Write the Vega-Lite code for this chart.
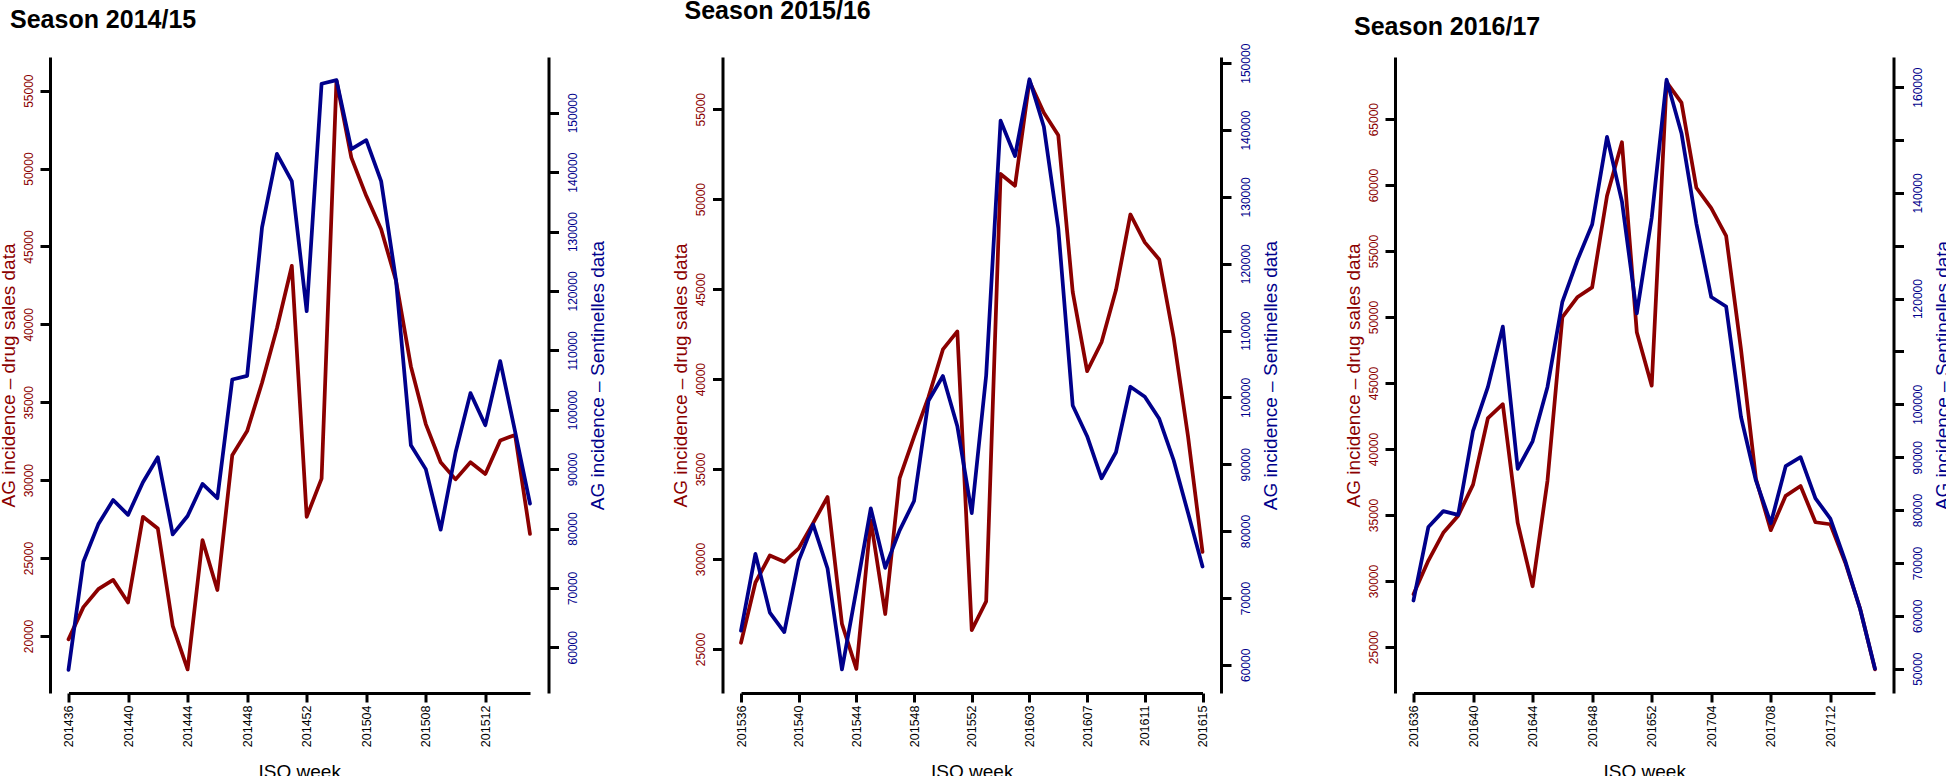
{
  "$schema": "https://vega.github.io/schema/vega-lite/v6.json",
  "background": "white",
  "padding": {"left": -1.5, "top": -2, "right": -6, "bottom": -6},
  "autosize": {"type": "pad"},
  "bounds": "flush",
  "spacing": 210.5,
  "config": {
    "view": {"stroke": null},
    "font": "Liberation Sans",
    "axis": {"grid": false, "labelFont": "Liberation Sans", "titleFont": "Liberation Sans", "domainColor": "black", "tickColor": "black", "domainWidth": 3, "tickWidth": 3, "labelFlush": false, "labelOverlap": false, "titleFontWeight": "normal"}
  },
  "datasets": {
    "s1": [
      {"week": "201436", "drug": 19780, "sentinelles": 56200},
      {"week": "201437", "drug": 21850, "sentinelles": 74400},
      {"week": "201438", "drug": 23000, "sentinelles": 80700},
      {"week": "201439", "drug": 23600, "sentinelles": 84800},
      {"week": "201440", "drug": 22150, "sentinelles": 82300},
      {"week": "201441", "drug": 27650, "sentinelles": 87800},
      {"week": "201442", "drug": 26900, "sentinelles": 92000},
      {"week": "201443", "drug": 20650, "sentinelles": 79000},
      {"week": "201444", "drug": 17850, "sentinelles": 82100},
      {"week": "201445", "drug": 26150, "sentinelles": 87500},
      {"week": "201446", "drug": 22950, "sentinelles": 85100},
      {"week": "201447", "drug": 31600, "sentinelles": 105100},
      {"week": "201448", "drug": 33150, "sentinelles": 105700},
      {"week": "201449", "drug": 36250, "sentinelles": 130700},
      {"week": "201450", "drug": 39750, "sentinelles": 143100},
      {"week": "201451", "drug": 43750, "sentinelles": 138500},
      {"week": "201452", "drug": 27650, "sentinelles": 116600},
      {"week": "201501", "drug": 30100, "sentinelles": 154900},
      {"week": "201502", "drug": 55650, "sentinelles": 155500},
      {"week": "201503", "drug": 50700, "sentinelles": 143900},
      {"week": "201504", "drug": 48250, "sentinelles": 145400},
      {"week": "201505", "drug": 46100, "sentinelles": 138500},
      {"week": "201506", "drug": 42800, "sentinelles": 121800},
      {"week": "201507", "drug": 37300, "sentinelles": 94000},
      {"week": "201508", "drug": 33600, "sentinelles": 90000},
      {"week": "201509", "drug": 31150, "sentinelles": 79800},
      {"week": "201510", "drug": 30050, "sentinelles": 92800},
      {"week": "201511", "drug": 31150, "sentinelles": 102800},
      {"week": "201512", "drug": 30400, "sentinelles": 97400},
      {"week": "201513", "drug": 32550, "sentinelles": 108200},
      {"week": "201514", "drug": 32900, "sentinelles": 96300},
      {"week": "201515", "drug": 26550, "sentinelles": 84200}
    ],
    "s2": [
      {"week": "201536", "drug": 25350, "sentinelles": 65100},
      {"week": "201537", "drug": 28700, "sentinelles": 76600},
      {"week": "201538", "drug": 30200, "sentinelles": 67800},
      {"week": "201539", "drug": 29850, "sentinelles": 64900},
      {"week": "201540", "drug": 30600, "sentinelles": 75600},
      {"week": "201541", "drug": 32000, "sentinelles": 81000},
      {"week": "201542", "drug": 33450, "sentinelles": 74400},
      {"week": "201543", "drug": 26400, "sentinelles": 59300},
      {"week": "201544", "drug": 23900, "sentinelles": 71200},
      {"week": "201545", "drug": 32150, "sentinelles": 83400},
      {"week": "201546", "drug": 26950, "sentinelles": 74500},
      {"week": "201547", "drug": 34500, "sentinelles": 80100},
      {"week": "201548", "drug": 36800, "sentinelles": 84500},
      {"week": "201549", "drug": 39000, "sentinelles": 99500},
      {"week": "201550", "drug": 41650, "sentinelles": 103200},
      {"week": "201551", "drug": 42650, "sentinelles": 95700},
      {"week": "201552", "drug": 26050, "sentinelles": 82700},
      {"week": "201553", "drug": 27650, "sentinelles": 103300},
      {"week": "201601", "drug": 51400, "sentinelles": 141400},
      {"week": "201602", "drug": 50750, "sentinelles": 136100},
      {"week": "201603", "drug": 56550, "sentinelles": 147600},
      {"week": "201604", "drug": 54800, "sentinelles": 140500},
      {"week": "201605", "drug": 53550, "sentinelles": 125300},
      {"week": "201606", "drug": 44850, "sentinelles": 98800},
      {"week": "201607", "drug": 40450, "sentinelles": 94200},
      {"week": "201608", "drug": 42050, "sentinelles": 87900},
      {"week": "201609", "drug": 44950, "sentinelles": 91800},
      {"week": "201610", "drug": 49150, "sentinelles": 101600},
      {"week": "201611", "drug": 47600, "sentinelles": 100100},
      {"week": "201612", "drug": 46650, "sentinelles": 96800},
      {"week": "201613", "drug": 42300, "sentinelles": 90600},
      {"week": "201614", "drug": 36800, "sentinelles": 82700},
      {"week": "201615", "drug": 30400, "sentinelles": 74700}
    ],
    "s3": [
      {"week": "201636", "drug": 29000, "sentinelles": 62900},
      {"week": "201637", "drug": 31550, "sentinelles": 76800},
      {"week": "201638", "drug": 33650, "sentinelles": 79800},
      {"week": "201639", "drug": 34950, "sentinelles": 79100},
      {"week": "201640", "drug": 37300, "sentinelles": 95000},
      {"week": "201641", "drug": 42350, "sentinelles": 103300},
      {"week": "201642", "drug": 43400, "sentinelles": 114700},
      {"week": "201643", "drug": 34400, "sentinelles": 87800},
      {"week": "201644", "drug": 29600, "sentinelles": 93000},
      {"week": "201645", "drug": 37600, "sentinelles": 103300},
      {"week": "201646", "drug": 50000, "sentinelles": 119400},
      {"week": "201647", "drug": 51500, "sentinelles": 127200},
      {"week": "201648", "drug": 52250, "sentinelles": 134000},
      {"week": "201649", "drug": 59200, "sentinelles": 150600},
      {"week": "201650", "drug": 63250, "sentinelles": 138400},
      {"week": "201651", "drug": 48850, "sentinelles": 117200},
      {"week": "201652", "drug": 44800, "sentinelles": 135300},
      {"week": "201701", "drug": 67800, "sentinelles": 161400},
      {"week": "201702", "drug": 66250, "sentinelles": 151300},
      {"week": "201703", "drug": 59800, "sentinelles": 134200},
      {"week": "201704", "drug": 58250, "sentinelles": 120300},
      {"week": "201705", "drug": 56150, "sentinelles": 118500},
      {"week": "201706", "drug": 47550, "sentinelles": 97600},
      {"week": "201707", "drug": 37750, "sentinelles": 85600},
      {"week": "201708", "drug": 33850, "sentinelles": 77500},
      {"week": "201709", "drug": 36450, "sentinelles": 88300},
      {"week": "201710", "drug": 37200, "sentinelles": 90000},
      {"week": "201711", "drug": 34450, "sentinelles": 82200},
      {"week": "201712", "drug": 34300, "sentinelles": 78400},
      {"week": "201713", "drug": 31400, "sentinelles": 70400},
      {"week": "201714", "drug": 27900, "sentinelles": 61300},
      {"week": "201715", "drug": 23300, "sentinelles": 50000}
    ]
  },
  "hconcat": [
    {
      "width": 461.5,
      "height": 636,
      "data": {"name": "s1"},
      "title": {"text": "Season 2014/15", "anchor": "start", "frame": "group", "orient": "top", "offset": 24.5, "dx": -58.5, "font": "Liberation Sans", "fontSize": 25, "fontWeight": "bold", "color": "black", "baseline": "top"},
      "layer": [
        {
          "mark": {"type": "line", "color": "#8B0000", "strokeWidth": 3.75, "strokeJoin": "round", "strokeCap": "round"},
          "encoding": {
            "x": {"field": "week", "type": "ordinal", "scale": {"type": "point", "padding": 0},
              "axis": {"values": ["201436", "201440", "201444", "201448", "201452", "201504", "201508", "201512"], "labelAngle": -90, "labelAlign": "right", "labelBaseline": "middle", "labelPadding": 3, "labelFontSize": 12.5, "labelColor": "black", "tickSize": 9, "title": "ISO week", "titleFontSize": 19, "titleColor": "black", "titleAngle": 0, "titleAlign": "center", "titleBaseline": "alphabetic", "titleX": 230.75, "titleY": 84.6}},
            "y": {"field": "drug", "type": "quantitative", "scale": {"domain": [16338, 57162], "nice": false, "zero": false},
              "axis": {"orient": "left", "offset": 18.5, "values": [20000, 25000, 30000, 35000, 40000, 45000, 50000, 55000], "format": "d", "labelAngle": -90, "labelAlign": "center", "labelBaseline": "alphabetic", "labelPadding": 8, "labelColor": "#8B0000", "labelFontSize": 12, "tickSize": 10, "title": "AG incidence – drug sales data", "titleColor": "#8B0000", "titleFontSize": 19, "titleAngle": -90, "titleAlign": "center", "titleBaseline": "alphabetic", "titleX": -36, "titleY": 318}}
          }
        },
        {
          "mark": {"type": "line", "color": "#00008B", "strokeWidth": 3.75, "strokeJoin": "round", "strokeCap": "round"},
          "encoding": {
            "x": {"field": "week", "type": "ordinal"},
            "y": {"field": "sentinelles", "type": "quantitative", "scale": {"domain": [52300, 159400], "nice": false, "zero": false},
              "axis": {"orient": "right", "offset": 18.5, "values": [60000, 70000, 80000, 90000, 100000, 110000, 120000, 130000, 140000, 150000], "format": "d", "labelAngle": -90, "labelAlign": "center", "labelBaseline": "top", "labelPadding": 9, "labelColor": "#00008B", "labelFontSize": 12, "tickSize": 10, "title": "AG incidence – Sentinelles data", "titleColor": "#00008B", "titleFontSize": 19, "titleAngle": -90, "titleAlign": "center", "titleBaseline": "top", "titleX": 40, "titleY": 318}}
          }
        }
      ],
      "resolve": {"scale": {"y": "independent"}, "axis": {"y": "independent"}}
    },
    {
      "width": 461.5,
      "height": 636,
      "data": {"name": "s2"},
      "title": {"text": "Season 2015/16", "anchor": "start", "frame": "group", "orient": "top", "offset": 19.3, "dx": -56.5, "font": "Liberation Sans", "fontSize": 25, "fontWeight": "bold", "color": "black", "baseline": "top"},
      "layer": [
        {
          "mark": {"type": "line", "color": "#8B0000", "strokeWidth": 3.75, "strokeJoin": "round", "strokeCap": "round"},
          "encoding": {
            "x": {"field": "week", "type": "ordinal", "scale": {"type": "point", "padding": 0},
              "axis": {"values": ["201536", "201540", "201544", "201548", "201552", "201603", "201607", "201611", "201615"], "labelAngle": -90, "labelAlign": "right", "labelBaseline": "middle", "labelPadding": 3, "labelFontSize": 12.5, "labelColor": "black", "tickSize": 9, "title": "ISO week", "titleFontSize": 19, "titleColor": "black", "titleAngle": 0, "titleAlign": "center", "titleBaseline": "alphabetic", "titleX": 230.75, "titleY": 84.6}},
            "y": {"field": "drug", "type": "quantitative", "scale": {"domain": [22560, 57900], "nice": false, "zero": false},
              "axis": {"orient": "left", "offset": 18.5, "values": [25000, 30000, 35000, 40000, 45000, 50000, 55000], "format": "d", "labelAngle": -90, "labelAlign": "center", "labelBaseline": "alphabetic", "labelPadding": 8, "labelColor": "#8B0000", "labelFontSize": 12, "tickSize": 10, "title": "AG incidence – drug sales data", "titleColor": "#8B0000", "titleFontSize": 19, "titleAngle": -90, "titleAlign": "center", "titleBaseline": "alphabetic", "titleX": -36, "titleY": 318}}
          }
        },
        {
          "mark": {"type": "line", "color": "#00008B", "strokeWidth": 3.75, "strokeJoin": "round", "strokeCap": "round"},
          "encoding": {
            "x": {"field": "week", "type": "ordinal"},
            "y": {"field": "sentinelles", "type": "quantitative", "scale": {"domain": [55780, 150930], "nice": false, "zero": false},
              "axis": {"orient": "right", "offset": 18.5, "values": [60000, 70000, 80000, 90000, 100000, 110000, 120000, 130000, 140000, 150000], "format": "d", "labelAngle": -90, "labelAlign": "center", "labelBaseline": "top", "labelPadding": 9, "labelColor": "#00008B", "labelFontSize": 12, "tickSize": 10, "title": "AG incidence – Sentinelles data", "titleColor": "#00008B", "titleFontSize": 19, "titleAngle": -90, "titleAlign": "center", "titleBaseline": "top", "titleX": 40, "titleY": 318}}
          }
        }
      ],
      "resolve": {"scale": {"y": "independent"}, "axis": {"y": "independent"}}
    },
    {
      "width": 461.5,
      "height": 636,
      "data": {"name": "s3"},
      "title": {"text": "Season 2016/17", "anchor": "start", "frame": "group", "orient": "top", "offset": 17.5, "dx": -59.5, "font": "Liberation Sans", "fontSize": 25, "fontWeight": "bold", "color": "black", "baseline": "top"},
      "layer": [
        {
          "mark": {"type": "line", "color": "#8B0000", "strokeWidth": 3.75, "strokeJoin": "round", "strokeCap": "round"},
          "encoding": {
            "x": {"field": "week", "type": "ordinal", "scale": {"type": "point", "padding": 0},
              "axis": {"values": ["201636", "201640", "201644", "201648", "201652", "201704", "201708", "201712"], "labelAngle": -90, "labelAlign": "right", "labelBaseline": "middle", "labelPadding": 3, "labelFontSize": 12.5, "labelColor": "black", "tickSize": 9, "title": "ISO week", "titleFontSize": 19, "titleColor": "black", "titleAngle": 0, "titleAlign": "center", "titleBaseline": "alphabetic", "titleX": 230.75, "titleY": 84.6}},
            "y": {"field": "drug", "type": "quantitative", "scale": {"domain": [21510, 69710], "nice": false, "zero": false},
              "axis": {"orient": "left", "offset": 18.5, "values": [25000, 30000, 35000, 40000, 45000, 50000, 55000, 60000, 65000], "format": "d", "labelAngle": -90, "labelAlign": "center", "labelBaseline": "alphabetic", "labelPadding": 8, "labelColor": "#8B0000", "labelFontSize": 12, "tickSize": 10, "title": "AG incidence – drug sales data", "titleColor": "#8B0000", "titleFontSize": 19, "titleAngle": -90, "titleAlign": "center", "titleBaseline": "alphabetic", "titleX": -36, "titleY": 318}}
          }
        },
        {
          "mark": {"type": "line", "color": "#00008B", "strokeWidth": 3.75, "strokeJoin": "round", "strokeCap": "round"},
          "encoding": {
            "x": {"field": "week", "type": "ordinal"},
            "y": {"field": "sentinelles", "type": "quantitative", "scale": {"domain": [45400, 165700], "nice": false, "zero": false},
              "axis": {"orient": "right", "offset": 18.5, "values": [50000, 60000, 70000, 80000, 90000, 100000, 110000, 120000, 130000, 140000, 150000, 160000], "format": "d", "labelExpr": "indexof([110000, 130000, 150000], datum.value) >= 0 ? '' : datum.label", "labelAngle": -90, "labelAlign": "center", "labelBaseline": "top", "labelPadding": 9, "labelColor": "#00008B", "labelFontSize": 12, "tickSize": 10, "title": "AG incidence – Sentinelles data", "titleColor": "#00008B", "titleFontSize": 19, "titleAngle": -90, "titleAlign": "center", "titleBaseline": "top", "titleX": 40, "titleY": 318}}
          }
        }
      ],
      "resolve": {"scale": {"y": "independent"}, "axis": {"y": "independent"}}
    }
  ]
}
